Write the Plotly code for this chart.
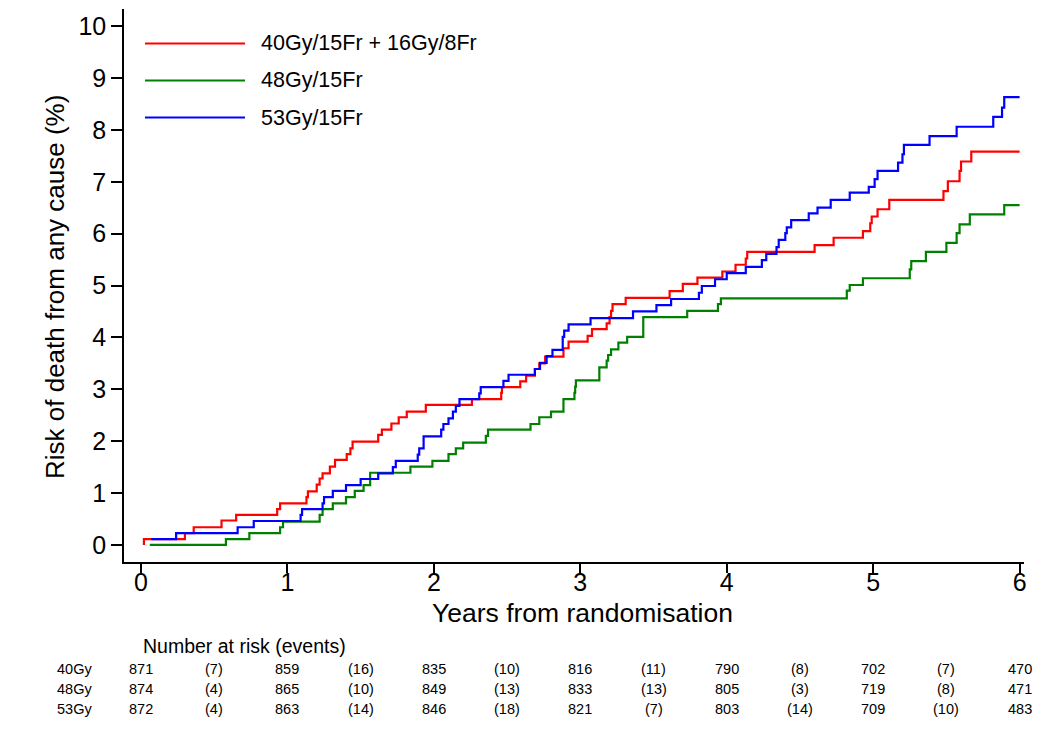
import plotly.graph_objects as go

# ---------------- data ----------------
red_t = [0.02, 0.02, 0.30, 0.36, 0.55, 0.65, 0.93, 0.95, 1.13, 1.14, 1.20, 1.22, 1.24, 1.29, 1.325,
         1.405, 1.43, 1.445, 1.62, 1.645, 1.71, 1.76, 1.815, 1.945, 2.26, 2.46, 2.465, 2.59, 2.63,
         2.69, 2.72, 2.76, 2.885, 2.92, 3.05, 3.08, 3.18, 3.20, 3.21, 3.22, 3.31, 3.61, 3.70, 3.80,
         3.97, 4.06, 4.13, 4.14, 4.60, 4.73, 4.93, 4.98, 4.99, 5.03, 5.11, 5.48, 5.51, 5.59, 5.60,
         5.67, 6.00]
red_y = [0.00, 0.11, 0.225, 0.34, 0.47, 0.58, 0.69, 0.80, 0.92, 1.03, 1.16, 1.28, 1.38, 1.51, 1.64,
         1.75, 1.86, 1.99, 2.12, 2.22, 2.34, 2.46, 2.57, 2.70, 2.81, 2.93, 3.04, 3.15, 3.26,
         3.39, 3.50, 3.63, 3.79, 3.92, 4.03, 4.16, 4.27, 4.39, 4.51, 4.64, 4.76, 4.89, 5.03, 5.15,
         5.27, 5.40, 5.52, 5.65, 5.78, 5.92, 6.05, 6.20, 6.33, 6.47, 6.65, 6.82, 7.01, 7.21, 7.39,
         7.58, 7.58]

green_t = [0.06, 0.58, 0.74, 0.95, 0.97, 1.22, 1.24, 1.31, 1.40, 1.46, 1.52, 1.565, 1.84, 1.99,
           2.10, 2.15, 2.20, 2.355, 2.37, 2.66, 2.72, 2.80, 2.885, 2.96, 2.965, 2.97, 3.13, 3.18,
           3.19, 3.21, 3.26, 3.32, 3.43, 3.73, 3.94, 3.96, 4.82, 4.84, 4.93, 5.25, 5.26, 5.36,
           5.50, 5.57, 5.59, 5.66, 5.895, 6.00]
green_y = [0.00, 0.11, 0.225, 0.34, 0.45, 0.58, 0.69, 0.80, 0.92, 1.04, 1.15, 1.39, 1.51, 1.62,
           1.75, 1.86, 1.97, 2.10, 2.22, 2.33, 2.46, 2.57, 2.81, 2.93, 3.05, 3.17, 3.42, 3.55,
           3.66, 3.77, 3.90, 4.01, 4.39, 4.51, 4.64, 4.75, 4.90, 5.01, 5.14, 5.31, 5.47, 5.65,
           5.82, 6.01, 6.18, 6.37, 6.55, 6.55]

blue_t = [0.07, 0.24, 0.66, 0.77, 1.09, 1.10, 1.24, 1.25, 1.31, 1.40, 1.50, 1.62, 1.72, 1.74,
          1.89, 1.90, 1.93, 2.05, 2.065, 2.10, 2.13, 2.15, 2.175, 2.31, 2.32, 2.475, 2.51, 2.69,
          2.725, 2.77, 2.81, 2.88, 2.89, 2.92, 3.07, 3.36, 3.52, 3.62, 3.81, 3.83, 3.92, 4.00,
          4.13, 4.24, 4.27, 4.34, 4.355, 4.40, 4.41, 4.44, 4.56, 4.62, 4.71, 4.84, 4.97, 5.01,
          5.03, 5.17, 5.20, 5.21, 5.385, 5.57, 5.82, 5.88, 5.895, 6.00]
blue_y = [0.11, 0.225, 0.34, 0.46, 0.58, 0.69, 0.80, 0.92, 1.04, 1.15, 1.27, 1.38, 1.50, 1.62,
          1.74, 1.86, 2.09, 2.22, 2.33, 2.44, 2.57, 2.68, 2.81, 2.92, 3.04, 3.16, 3.28, 3.39,
          3.51, 3.64, 3.76, 4.01, 4.13, 4.25, 4.37, 4.50, 4.62, 4.74, 4.86, 4.99, 5.12, 5.24,
          5.36, 5.49, 5.61, 5.74, 5.88, 6.01, 6.12, 6.26, 6.39, 6.50, 6.65, 6.79, 6.90, 7.05,
          7.21, 7.37, 7.53, 7.71, 7.88, 8.06, 8.25, 8.43, 8.63, 8.63]

series_names = ["40Gy/15Fr + 16Gy/8Fr", "48Gy/15Fr", "53Gy/15Fr"]
series_colors = ["#FF0000", "#008000", "#0000FF"]

x_ticks = [0, 1, 2, 3, 4, 5, 6]
y_ticks = [0, 1, 2, 3, 4, 5, 6, 7, 8, 9, 10]

row_labels = ["40Gy", "48Gy", "53Gy"]
at_risk_40 = [871, 859, 835, 816, 790, 702, 470]
at_risk_48 = [874, 865, 849, 833, 805, 719, 471]
at_risk_53 = [872, 863, 846, 821, 803, 709, 483]
events_40 = [7, 16, 10, 11, 8, 7]
events_48 = [4, 10, 13, 13, 3, 8]
events_53 = [4, 14, 18, 7, 14, 10]

# ---------------- figure ----------------
FONT = "Liberation Sans, Arial, sans-serif"
fig = go.Figure()
for t, y, name, col in zip([red_t, green_t, blue_t], [red_y, green_y, blue_y],
                           series_names, series_colors):
    fig.add_trace(go.Scatter(x=t, y=y, mode="lines", line=dict(color=col, width=2.2, shape="hv"),
                             name=name, showlegend=False))

W, H = 1059, 747
L, R, T, B = 124, 35, 9, 185
pw, ph = W - L - R, H - T - B

def px(xp):
    return (xp - L) / pw

def py(yp):
    return (H - B - yp) / ph

shapes = []
annotations = []

# manual legend
leg_y = [43.5, 80.5, 117.5]
for name, col, yy in zip(series_names, series_colors, leg_y):
    shapes.append(dict(type="line", xref="paper", yref="paper", x0=px(145), x1=px(245),
                       y0=py(yy), y1=py(yy), line=dict(color=col, width=2.2), layer="above"))
    annotations.append(dict(xref="paper", yref="paper", x=px(259), y=py(yy), text=name,
                            showarrow=False, xanchor="left", yanchor="middle",
                            font=dict(size=21.5, color="black", family=FONT)))

# axis titles
annotations.append(dict(xref="paper", yref="paper", x=px(582), y=py(613),
                        text="Years from randomisation", showarrow=False,
                        xanchor="center", yanchor="middle",
                        font=dict(size=26.5, color="black", family=FONT)))
annotations.append(dict(xref="paper", yref="paper", x=px(55), y=py(287),
                        text="Risk of death from any cause (%)", showarrow=False, textangle=-90,
                        xanchor="center", yanchor="middle",
                        font=dict(size=26, color="black", family=FONT)))

# number at risk table
annotations.append(dict(xref="paper", yref="paper", x=px(141), y=py(646),
                        text="Number at risk (events)", showarrow=False,
                        xanchor="left", yanchor="middle",
                        font=dict(size=19.5, color="black", family=FONT)))
row_y = [669, 689, 709]
for lab, risk, ev, yy in zip(row_labels, [at_risk_40, at_risk_48, at_risk_53],
                             [events_40, events_48, events_53], row_y):
    annotations.append(dict(xref="paper", yref="paper", x=px(55), y=py(yy), text=lab,
                            showarrow=False, xanchor="left", yanchor="middle",
                            font=dict(size=14.5, color="black", family=FONT)))
    for i, v in enumerate(risk):
        annotations.append(dict(xref="x", yref="paper", x=x_ticks[i], y=py(yy), text=str(v),
                                showarrow=False, xanchor="center", yanchor="middle",
                                font=dict(size=14.5, color="black", family=FONT)))
    for i, v in enumerate(ev):
        annotations.append(dict(xref="x", yref="paper", x=x_ticks[i] + 0.5, y=py(yy),
                                text="(%d)" % v, showarrow=False, xanchor="center",
                                yanchor="middle",
                                font=dict(size=14.5, color="black", family=FONT)))

fig.update_layout(
    width=W, height=H,
    margin=dict(l=L, r=R, t=T, b=B, pad=0),
    paper_bgcolor="white", plot_bgcolor="white",
    showlegend=False,
    shapes=shapes, annotations=annotations,
    font=dict(family=FONT, color="black"),
    xaxis=dict(range=[-0.116, 6.03], tickvals=x_ticks, ticktext=[str(v) for v in x_ticks],
               showgrid=False, zeroline=False, showline=True, linecolor="black", linewidth=1.5,
               ticks="outside", ticklen=9, tickwidth=1.5, tickcolor="black",
               ticklabelstandoff=-12,
               tickfont=dict(size=25, color="black", family=FONT)),
    yaxis=dict(range=[-0.33, 10.33], tickvals=y_ticks, ticktext=[str(v) for v in y_ticks],
               showgrid=False, zeroline=False, showline=True, linecolor="black", linewidth=1.5,
               ticks="outside", ticklen=11, tickwidth=1.5, tickcolor="black",
               tickfont=dict(size=25, color="black", family=FONT)),
)

fig.write_html("out.html")
